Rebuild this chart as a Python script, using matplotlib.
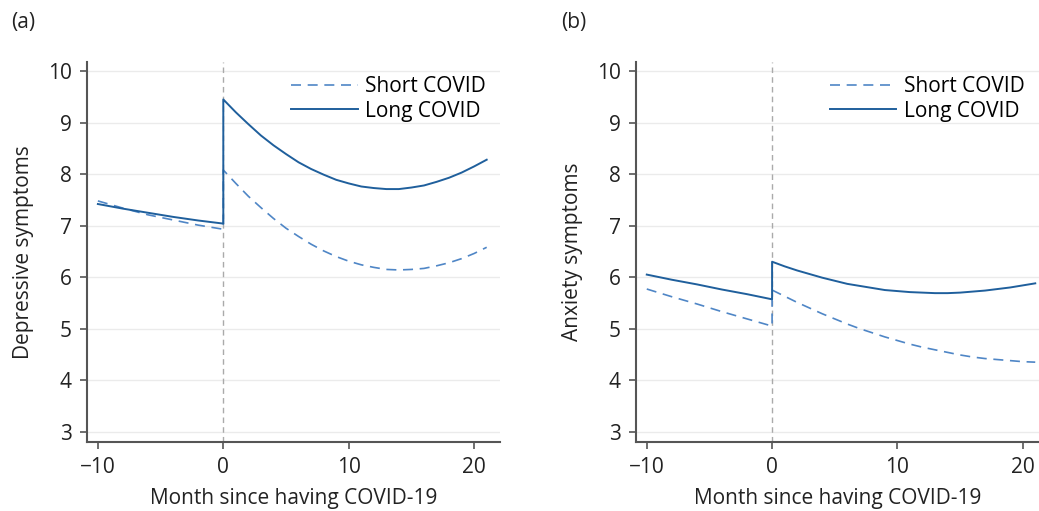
import matplotlib
matplotlib.use("Agg")
import matplotlib.pyplot as plt

plt.rcParams['font.family'] = ['Open Sans', 'DejaVu Sans']

# months for the pre/post segments (x=0 appears twice -> vertical jump)
months_pre = [-10, -8, -6, -4, -2, 0]
months_post = list(range(0, 22))

# (a) depressive symptoms
dep_short_pre = [7.48, 7.34, 7.21, 7.11, 7.01, 6.93]
dep_short_post = [8.08, 7.82, 7.57, 7.35, 7.14, 6.95, 6.79, 6.64, 6.51, 6.40, 6.31,
                  6.24, 6.19, 6.15, 6.14, 6.15, 6.17, 6.22, 6.28, 6.36, 6.46, 6.58]
dep_long_pre = [7.42, 7.33, 7.25, 7.17, 7.10, 7.04]
dep_long_post = [9.45, 9.20, 8.97, 8.75, 8.56, 8.39, 8.23, 8.10, 7.99, 7.89, 7.82,
                 7.76, 7.73, 7.71, 7.71, 7.74, 7.78, 7.85, 7.93, 8.03, 8.15, 8.28]

# (b) anxiety symptoms
anx_short_pre = [5.77, 5.62, 5.48, 5.33, 5.19, 5.05]
anx_short_post = [5.75, 5.63, 5.51, 5.40, 5.29, 5.19, 5.09, 5.00, 4.92, 4.84, 4.77,
                  4.70, 4.64, 4.59, 4.54, 4.49, 4.45, 4.42, 4.40, 4.38, 4.36, 4.35]
anx_long_pre = [6.05, 5.95, 5.86, 5.76, 5.67, 5.57]
anx_long_post = [6.30, 6.21, 6.13, 6.06, 5.99, 5.93, 5.87, 5.83, 5.79, 5.75, 5.73,
                 5.71, 5.70, 5.69, 5.69, 5.70, 5.72, 5.74, 5.77, 5.80, 5.84, 5.88]

x_ticks = [-10, 0, 10, 20]
y_ticks = [3, 4, 5, 6, 7, 8, 9, 10]

SHORT_COLOR = '#4f86c6'
LONG_COLOR = '#1f5f9c'
AXIS_COLOR = '#555555'
FS = 15

fig = plt.figure(figsize=(10.39, 5.11), dpi=100)
ax_a = fig.add_axes([0.0837, 0.135, 0.398, 0.744])
ax_b = fig.add_axes([0.612, 0.135, 0.388, 0.744])


def draw_panel(ax, short_pre, short_post, long_pre, long_post, ylabel, xmax):
    ax.axvline(0, color='#aaaaaa', linestyle=(0, (4, 3)), linewidth=1.0, zorder=1)
    ax.plot(months_pre + months_post, short_pre + short_post, color=SHORT_COLOR,
            linestyle=(0, (6, 4)), linewidth=1.2, label='Short COVID', zorder=3)
    ax.plot(months_pre + months_post, long_pre + long_post, color=LONG_COLOR,
            linewidth=1.4, label='Long COVID', zorder=3)

    ax.set_xlim(-10.87, xmax)
    ax.set_ylim(2.8, 10.18)
    ax.set_xticks(x_ticks)
    ax.set_xticklabels(['\u221210', '0', '10', '20'])
    ax.set_yticks(y_ticks)
    ax.grid(axis='y', color='#ebebeb', linewidth=1.0, zorder=0)
    ax.set_axisbelow(True)

    for side in ['top', 'right']:
        ax.spines[side].set_visible(False)
    for side in ['left', 'bottom']:
        ax.spines[side].set_color(AXIS_COLOR)
        ax.spines[side].set_linewidth(1.5)
    ax.tick_params(axis='both', direction='out', length=5, width=1.2,
                   color=AXIS_COLOR, labelsize=FS, labelcolor='#222222', pad=6)

    ax.set_xlabel('Month since having COVID-19', fontsize=FS, color='#222222', labelpad=7)
    ax.set_ylabel(ylabel, fontsize=FS, color='#222222', labelpad=10)

    ax.legend(loc='upper right', bbox_to_anchor=(1.0, 1.0), frameon=False, fontsize=FS,
              handlelength=3.2, handletextpad=0.35, labelspacing=0.15, borderaxespad=0.3)


draw_panel(ax_a, dep_short_pre, dep_short_post, dep_long_pre, dep_long_post,
           'Depressive symptoms', 22.1)
draw_panel(ax_b, anx_short_pre, anx_short_post, anx_long_pre, anx_long_post,
           'Anxiety symptoms', 21.3)

fig.text(0.011, 0.955, '(a)', fontsize=FS, color='#222222', va='center')
fig.text(0.54, 0.955, '(b)', fontsize=FS, color='#222222', va='center')

fig.savefig('out.png', dpi=100)
